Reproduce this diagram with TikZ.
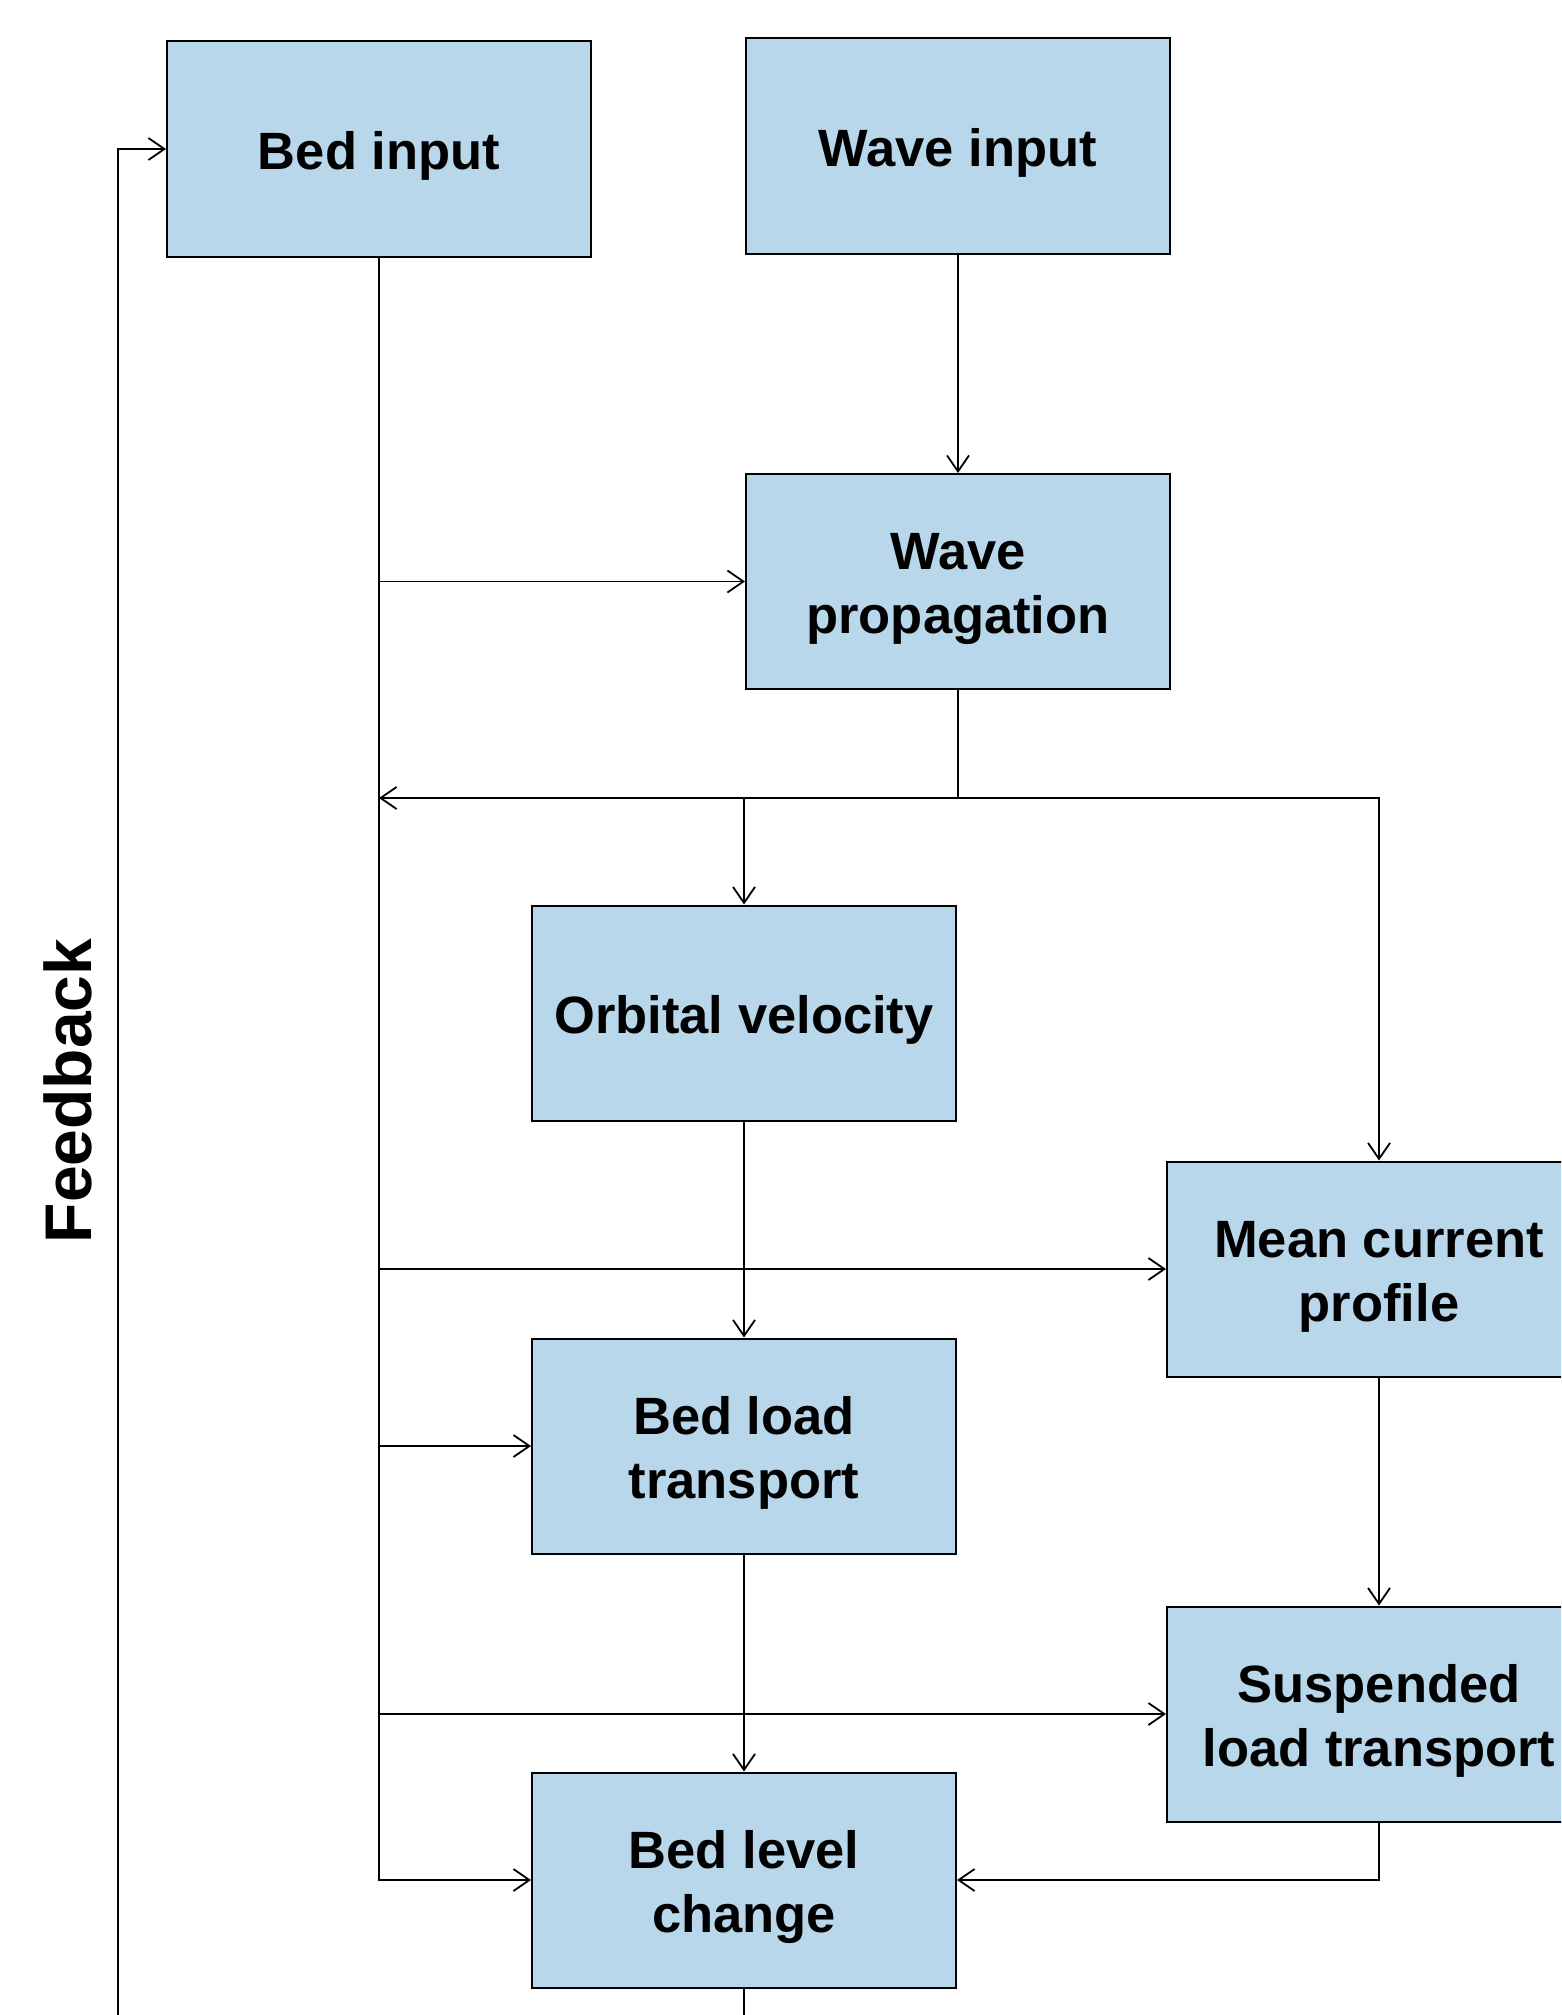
\documentclass[tikz,border=0pt]{standalone}
\usepackage{fontspec}
\setmainfont{Liberation Sans}
\usetikzlibrary{arrows.meta}
\definecolor{boxblue}{RGB}{185,215,234}
\newcommand\bxt[1]{\raisebox{-7.5pt}[\height][\depth]{\begin{tabular}{@{}c@{}}#1\end{tabular}}}
\tikzset{
  blk/.style={draw=black, line width=2pt, fill=boxblue, minimum width=424pt, minimum height=215pt,
    inner sep=0pt, font=\fontsize{52.5}{64}\selectfont\bfseries},
  arr/.style={line width=1.8pt, -{Straight Barb[length=16pt,width=22pt,line width=1.8pt]}},
  ln/.style={line width=1.8pt},
}
\begin{document}
\begin{tikzpicture}[x=1pt,y=-1pt]
\useasboundingbox (0,0) rectangle (1561,2015);
\clip (0,0) rectangle (1561,2015);
\node[blk] (bedin) at (379,149) {\bxt{Bed input}};
\node[blk] (wavein) at (958,146) {\bxt{Wave input}};
\node[blk] (waveprop) at (958,581.5) {\bxt{Wave\\propagation}};
\node[blk] (orbital) at (744,1013) {\bxt{Orbital velocity}};
\node[blk] (meancur) at (1379,1269) {\bxt{Mean current\\profile}};
\node[blk] (bedload) at (744,1446) {\bxt{Bed load\\transport}};
\node[blk] (susp) at (1379,1714) {\bxt{Suspended\\load transport}};
\node[blk] (bedlevel) at (744,1880) {\bxt{Bed level\\change}};
\node[rotate=90, font=\fontsize{66}{70}\selectfont\bfseries, inner sep=0pt] (fb) at (68,1091) {Feedback};

\coordinate (jn) at (958,798);
\coordinate (busend) at (379,1880);
\coordinate (bot) at (744,2015);
\coordinate (fbstart) at (118,2015);

% wave input to propagation
\draw[arr] (wavein.south) -- (waveprop.north);
% bed input bus
\draw[arr] (bedin.south) -- (busend) -- (bedlevel.west);
\draw[arr] (bedin.south |- waveprop.west) -- (waveprop.west);
\draw[arr] (bedin.south |- meancur.west) -- (meancur.west);
\draw[arr] (bedin.south |- bedload.west) -- (bedload.west);
\draw[arr] (bedin.south |- susp.west) -- (susp.west);
% wave propagation outputs
\draw[arr] (waveprop.south) |- (bedin.south |- jn);
\draw[arr] (jn) -| (meancur.north);
\draw[arr] (orbital.north |- jn) -- (orbital.north);
% chains
\draw[arr] (orbital.south) -- (bedload.north);
\draw[arr] (bedload.south) -- (bedlevel.north);
\draw[arr] (meancur.south) -- (susp.north);
\draw[arr] (susp.south) |- (bedlevel.east);
\draw[ln] (bedlevel.south) -- (bot);
% feedback
\draw[arr] (fbstart) |- (bedin.west);
\end{tikzpicture}
\end{document}
